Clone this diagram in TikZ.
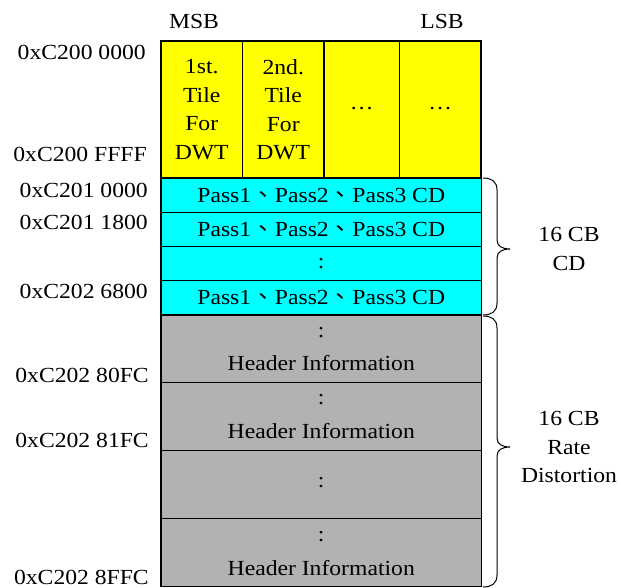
\documentclass[tikz,border=0pt]{standalone}
\usepackage{fontspec}
\setmainfont{Liberation Serif}[FakeStretch=1.1]
\newfontfamily\cjk{Noto Sans CJK TC}[FakeStretch=1.1]
\newcommand{\dun}{{\cjk 、}}
\definecolor{cellgray}{RGB}{178,178,178}
\definecolor{cellcyan}{RGB}{0,255,255}
\definecolor{cellyellow}{RGB}{255,255,0}
\begin{document}
\begin{tikzpicture}[x=1pt,y=-1pt,
  every node/.style={font=\fontsize{21.5}{28.5}\selectfont, inner sep=0pt},
  cell/.style={draw=black, line width=1.4pt, rectangle, align=center},
  ycell/.style={cell, fill=cellyellow, minimum height=137},
  ccell/.style={cell, fill=cellcyan, minimum width=320.5},
  gcell/.style={cell, fill=cellgray, minimum width=320.5, minimum height=68},
  addr/.style={anchor=east},
  bracepath/.style={draw=black, line width=1pt},
  lbl/.style={align=center}]
\useasboundingbox (0,0) rectangle (618,588);

% column headings
\node (msb) at (194,21) {MSB};
\node (lsb) at (442,21) {LSB};

% tile buffer for the DWT
\node[ycell, minimum width=81.5] (y1) at (201.75,109.5) {1st.\\Tile\\For\\DWT};
\node[ycell, minimum width=81.5] (y2) at (283.25,109.5) {2nd.\\Tile\\For\\DWT};
\node[ycell, minimum width=75.5] (y3) at (361.75,109.5) {};
\node[ycell, minimum width=81.5] (y4) at (440.25,109.5) {};
\node (y3d) at (361.75,109) {…};
\node (y4d) at (440.25,109) {…};

% code-block CD entries
\node[ccell, minimum height=34.5] (c1) at (321.25,195.25) {Pass1\dun Pass2\dun Pass3 CD};
\node[ccell, minimum height=34] (c2) at (321.25,229.5) {Pass1\dun Pass2\dun Pass3 CD};
\node[ccell, minimum height=34] (c3) at (321.25,263.5) {:};
\node[ccell, minimum height=34.5] (c4) at (321.25,297.75) {Pass1\dun Pass2\dun Pass3 CD};

% rate-distortion entries
\node[gcell, minimum height=67.5] (g1) at (321.25,348.75) {};
\node[gcell] (g2) at (321.25,416.5) {};
\node[gcell] (g3) at (321.25,484.5) {};
\node[gcell] (g4) at (321.25,552.5) {};
\node (g1d) at (321.25,333) {:};
\node (g1h) at (321.25,363) {Header Information};
\node (g2d) at (321.25,400) {:};
\node (g2h) at (321.25,431) {Header Information};
\node (g3d) at (321.25,483) {:};
\node (g4d) at (321.25,537) {:};
\node (g4h) at (321.25,568) {Header Information};

% addresses
\node[addr] (a1) at (146,52) {0xC200 0000};
\node[addr] (a2) at (147,154) {0xC200 FFFF};
\node[addr] (a3) at (148,190) {0xC201 0000};
\node[addr] (a4) at (148,222.5) {0xC201 1800};
\node[addr] (a5) at (148,291.5) {0xC202 6800};
\node[addr] (a6) at (149,375) {0xC202 80FC};
\node[addr] (a7) at (149,440) {0xC202 81FC};
\node[addr] (a8) at (149,577) {0xC202 8FFC};

% braces
\draw[bracepath] (483,178) .. controls (491,178) and (497,181) .. (497,190)
  -- (497,240) .. controls (497,246) and (502,249) .. (510,249)
  .. controls (502,249) and (497,252) .. (497,258)
  -- (497,303) .. controls (497,312) and (491,315) .. (483,315);
\draw[bracepath] (483,316) .. controls (491,316) and (497,319) .. (497,328)
  -- (497,438) .. controls (497,444) and (502,447) .. (510,447)
  .. controls (502,447) and (497,450) .. (497,456)
  -- (497,575) .. controls (497,584) and (491,587) .. (483,587);

\node[lbl] (b1) at (569,249) {16 CB\\CD};
\node[lbl] (b2) at (569,447) {16 CB\\Rate\\Distortion};
\end{tikzpicture}
\end{document}
